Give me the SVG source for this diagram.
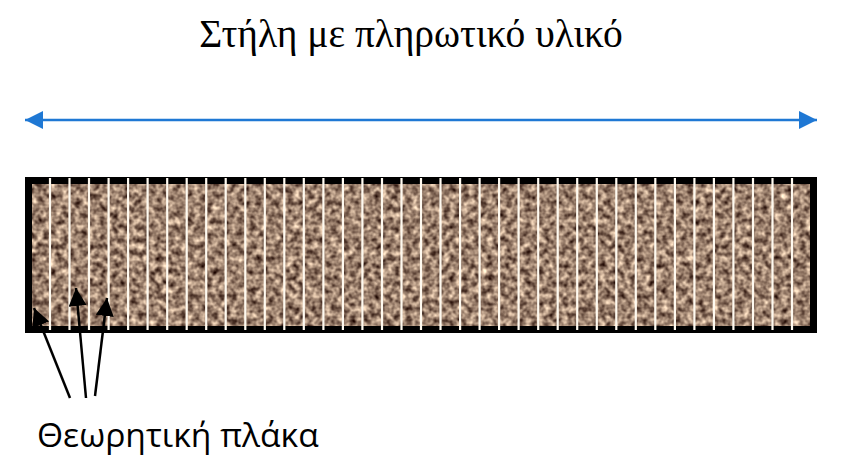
<svg xmlns="http://www.w3.org/2000/svg" width="848" height="472" viewBox="0 0 848 472">
<style>
.plate{stroke:#fffaf0;stroke-width:2.2}
.blk{stroke:#000;stroke-width:2.5;fill:none}
</style>
<defs>
<filter id="grain" x="0" y="0" width="1" height="1" filterUnits="objectBoundingBox" color-interpolation-filters="sRGB">
<feTurbulence type="fractalNoise" baseFrequency="0.16" numOctaves="2" seed="7" result="n"/>
<feGaussianBlur in="n" stdDeviation="0.5" result="b"/>
<feColorMatrix in="b" type="matrix" values="1.25 0 0 0 -0.02  1.22 0 0 0 -0.11  1.09 0 0 0 -0.12  0 0 0 0 1"/>
</filter>
<marker id="blue" viewBox="0 0 10 10" refX="10" refY="5" markerWidth="18" markerHeight="18" markerUnits="userSpaceOnUse" orient="auto-start-reverse">
<path d="M0,0 L10,5 L0,10 z" fill="#1f78d4"/>
</marker>
<marker id="blackhead" viewBox="0 0 10 10" refX="10" refY="5" markerWidth="18" markerHeight="18" markerUnits="userSpaceOnUse" orient="auto">
<path d="M0,0 L10,5 L0,10 z" fill="#000"/>
</marker>
</defs>
<g id="title"><text x="411" y="47" text-anchor="middle" font-family="'Liberation Serif', 'Times New Roman', serif" font-size="39.5" fill="#000">Στήλη με πληρωτικό υλικό</text></g>
<g id="dimension"><line x1="25" y1="120" x2="817" y2="120" stroke="#1f78d4" stroke-width="2.5" marker-start="url(#blue)" marker-end="url(#blue)"/></g>
<g id="column">
<rect x="25" y="177" width="792" height="156" fill="#000"/>
<rect x="32" y="184" width="778" height="142" fill="#9a8472" filter="url(#grain)"/>
<g id="plates" class="plate">
<line x1="50" y1="178" x2="50" y2="330"/><line x1="69.5" y1="178" x2="69.5" y2="330"/><line x1="89" y1="178" x2="89" y2="330"/><line x1="108.6" y1="178" x2="108.6" y2="330"/><line x1="128.1" y1="178" x2="128.1" y2="330"/><line x1="147.6" y1="178" x2="147.6" y2="330"/><line x1="167.2" y1="178" x2="167.2" y2="330"/><line x1="186.7" y1="178" x2="186.7" y2="330"/><line x1="206.2" y1="178" x2="206.2" y2="330"/><line x1="225.7" y1="178" x2="225.7" y2="330"/><line x1="245.3" y1="178" x2="245.3" y2="330"/><line x1="264.8" y1="178" x2="264.8" y2="330"/><line x1="284.3" y1="178" x2="284.3" y2="330"/><line x1="303.8" y1="178" x2="303.8" y2="330"/><line x1="323.4" y1="178" x2="323.4" y2="330"/><line x1="342.9" y1="178" x2="342.9" y2="330"/><line x1="362.4" y1="178" x2="362.4" y2="330"/><line x1="382" y1="178" x2="382" y2="330"/><line x1="401.5" y1="178" x2="401.5" y2="330"/><line x1="421" y1="178" x2="421" y2="330"/><line x1="440.5" y1="178" x2="440.5" y2="330"/><line x1="460.1" y1="178" x2="460.1" y2="330"/><line x1="479.6" y1="178" x2="479.6" y2="330"/><line x1="499.1" y1="178" x2="499.1" y2="330"/><line x1="518.6" y1="178" x2="518.6" y2="330"/><line x1="538.2" y1="178" x2="538.2" y2="330"/><line x1="557.7" y1="178" x2="557.7" y2="330"/><line x1="577.2" y1="178" x2="577.2" y2="330"/><line x1="596.8" y1="178" x2="596.8" y2="330"/><line x1="616.3" y1="178" x2="616.3" y2="330"/><line x1="635.8" y1="178" x2="635.8" y2="330"/><line x1="655.3" y1="178" x2="655.3" y2="330"/><line x1="674.9" y1="178" x2="674.9" y2="330"/><line x1="694.4" y1="178" x2="694.4" y2="330"/><line x1="713.9" y1="178" x2="713.9" y2="330"/><line x1="733.4" y1="178" x2="733.4" y2="330"/><line x1="753" y1="178" x2="753" y2="330"/><line x1="772.5" y1="178" x2="772.5" y2="330"/><line x1="792" y1="178" x2="792" y2="330"/>
</g>
</g>
<g id="connectors" class="blk">
<line x1="70" y1="398" x2="34" y2="308" marker-end="url(#blackhead)"/>
<line x1="86" y1="398" x2="76" y2="288" marker-end="url(#blackhead)"/>
<line x1="95" y1="396" x2="107" y2="298" marker-end="url(#blackhead)"/>
</g>
<g id="label"><text x="37" y="447" font-family="'Open Sans', 'Noto Sans', sans-serif" font-size="33.6" fill="#000">Θεωρητική πλάκα</text></g>
</svg>
